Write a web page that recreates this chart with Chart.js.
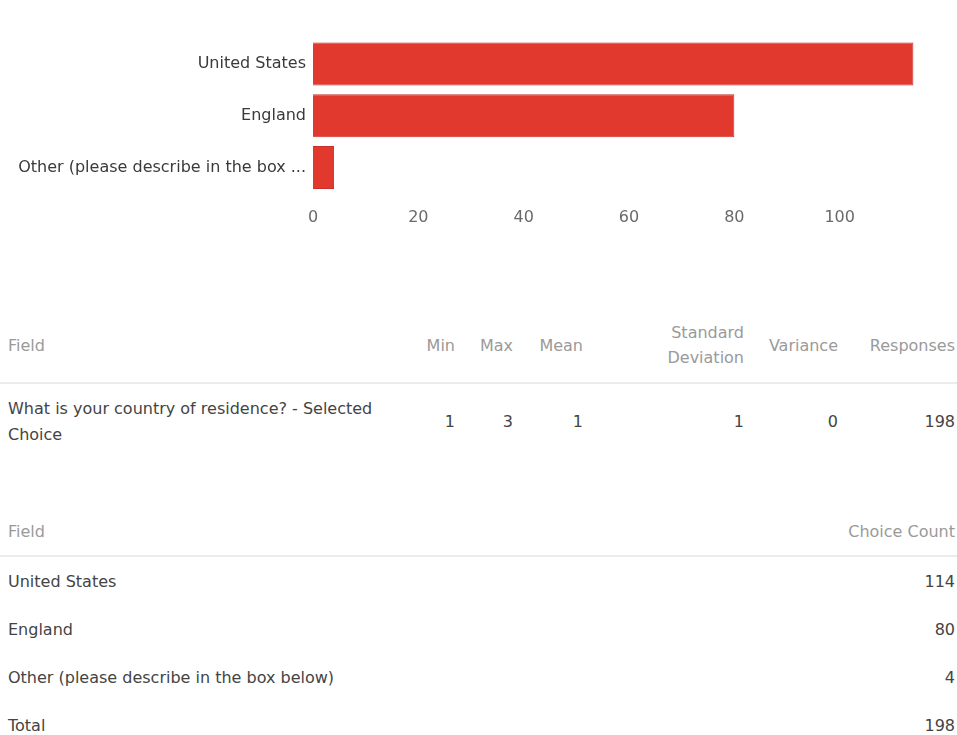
<!DOCTYPE html>
<html lang="en">
<head>
<meta charset="utf-8">
<title>What is your country of residence?</title>
<script src="https://cdn.jsdelivr.net/npm/chart.js@4/dist/chart.umd.min.js"></script>
<style>
  body {
    margin: 0;
    background: #fff;
    font-family: "DejaVu Sans", sans-serif;
    font-size: 16px;
    color: #444;
    width: 957px;
    height: 735px;
    overflow: hidden;
    position: relative;
  }
  .chart-box {
    position: absolute;
    left: 0; top: 0;
    width: 957px; height: 240px;
  }
  table {
    position: absolute;
    left: 0;
    width: 957px;
    border-collapse: collapse;
    table-layout: fixed;
  }
  th {
    font-weight: normal;
    color: #9a9a9a;
    line-height: 25px;
    border-bottom: 2px solid #ebebeb;
  }
  td, th { padding: 0; vertical-align: middle; }
  .num { text-align: right; padding-right: 2px; }
  .field { text-align: left; padding-left: 8px; }

  #stats { top: 308px; }
  #stats th { height: 74px; }
  #stats td { height: 76px; line-height: 26px; }
  #stats td.field { padding-right: 12px; }

  #counts { top: 507px; }
  #counts th { height: 48px; }
  #counts td { height: 48px; line-height: 25px; }
</style>
</head>
<body>

<div class="chart-box"><canvas id="countryChart"></canvas></div>

<table id="stats">
  <colgroup>
    <col style="width:400px"><col style="width:57px"><col style="width:58px"><col style="width:70px">
    <col style="width:161px"><col style="width:94px"><col style="width:117px">
  </colgroup>
  <thead><tr id="statsHead"></tr></thead>
  <tbody><tr id="statsRow"></tr></tbody>
</table>

<table id="counts">
  <colgroup><col style="width:800px"><col style="width:157px"></colgroup>
  <thead><tr><th class="field">Field</th><th class="num">Choice Count</th></tr></thead>
  <tbody id="countsBody"></tbody>
</table>

<script>
/* ============================================================
   DATA
   ============================================================ */
const question   = 'What is your country of residence? - Selected Choice';
const countries  = ['United States', 'England', 'Other (please describe in the box below)'];
const counts     = [114, 80, 4];
const xTicks     = [0, 20, 40, 60, 80, 100];

const statLabels = ['Min', 'Max', 'Mean', 'Standard Deviation', 'Variance', 'Responses'];
const statValues = [1, 3, 1, 1, 0, 198];

/* ============================================================
   BAR CHART
   ============================================================ */
const barRed    = '#e2392f';
const barEdge   = '#c9302a';
const fontStack = '"DejaVu Sans", sans-serif';

// long category names are cut like the survey tool does
function shortLabel(s) {
  return s.length > 36 ? s.slice(0, 34) + '...' : s;
}

new Chart(document.getElementById('countryChart'), {
  type: 'bar',
  data: {
    labels: countries,
    datasets: [{
      data: counts,
      backgroundColor: barRed,
      borderColor: barEdge,
      borderWidth: 1,
      barPercentage: 0.9,
      categoryPercentage: 0.92,
    }]
  },
  options: {
    indexAxis: 'y',
    responsive: true, maintainAspectRatio: false,
    animation: false,
    layout: { padding: { top: 38, right: 12, left: 0, bottom: 0 } },
    plugins: { legend: { display: false }, tooltip: { enabled: false } },
    scales: {
      x: {
        min: 0, max: 120,
        grid: { display: false, drawTicks: false },
        border: { display: false },
        afterBuildTicks: (scale) => {
          scale.ticks = xTicks.map(v => ({ value: v }));
        },
        afterFit: (scale) => { scale.height = 46.5; },
        ticks: {
          padding: 15,
          color: '#6a6a6a',
          font: { family: fontStack, size: 16 },
        }
      },
      y: {
        grid: { display: false, drawTicks: false },
        border: { display: false },
        afterFit: (scale) => { scale.width = 313; },
        ticks: {
          padding: 7,
          color: '#3a3a3a',
          font: { family: fontStack, size: 16 },
          callback: function (value) { return shortLabel(this.getLabelForValue(value)); }
        }
      }
    }
  }
});

/* ============================================================
   TABLES
   ============================================================ */
const statsHead = document.getElementById('statsHead');
statsHead.innerHTML = '<th class="field">Field</th>' +
  statLabels.map(l => {
    const txt = l === 'Standard Deviation' ? 'Standard<br>Deviation' : l;
    return `<th class="num">${txt}</th>`;
  }).join('');

const statsRow = document.getElementById('statsRow');
statsRow.innerHTML = `<td class="field">${question}</td>` +
  statValues.map(v => `<td class="num">${v}</td>`).join('');

const countsBody = document.getElementById('countsBody');
const total = counts.reduce((a, b) => a + b, 0);
countries.concat(['Total']).forEach((name, i) => {
  const tr = document.createElement('tr');
  const val = i < counts.length ? counts[i] : total;
  tr.innerHTML = `<td class="field">${name}</td><td class="num">${val}</td>`;
  countsBody.appendChild(tr);
});
</script>
</body>
</html>
